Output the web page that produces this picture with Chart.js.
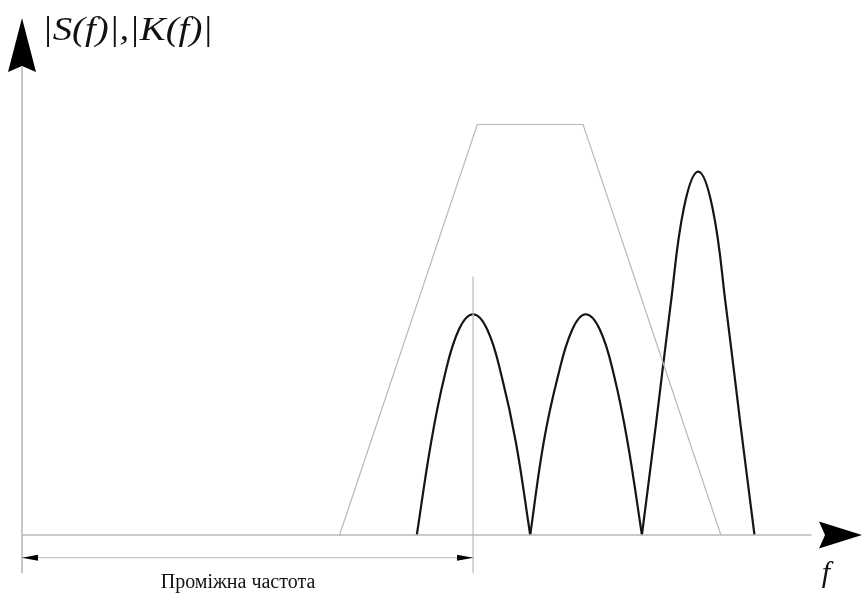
<!DOCTYPE html>
<html>
<head>
<meta charset="utf-8">
<script src="https://cdn.jsdelivr.net/npm/chart.js@4"></script>
<style>
  html, body { margin: 0; padding: 0; background: #fff; }
  #wrap { width: 865px; height: 597px; }
</style>
</head>
<body>
<div id="wrap"><canvas id="specChart"></canvas></div>
<script>
// K(f) - filter response (trapezoid)
var trapFreq = [3.78, 5.42, 6.68, 8.32];
var trapAmp  = [0, 7.94, 7.94, 0];

// S(f) - spectrum lobes
var lobe1Freq = [4.70, 4.87, 5.03, 5.20, 5.37, 5.54, 5.71, 5.88, 6.05];
var lobe1Amp  = [0, 1.79, 3.07, 3.97, 4.27, 3.97, 3.07, 1.79, 0];
var lobe2Freq = [6.05, 6.21, 6.38, 6.55, 6.71, 6.88, 7.05, 7.21, 7.38];
var lobe2Amp  = [0, 1.79, 3.07, 3.97, 4.27, 3.97, 3.07, 1.79, 0];
var lobe3Freq = [7.38, 7.55, 7.72, 7.88, 8.05, 8.22, 8.38, 8.55, 8.72];
var lobe3Amp  = [0, 2.18, 4.43, 6.33, 7.03, 6.33, 4.43, 2.18, 0];

// intermediate frequency marker
var ifFreq = 5.37;
var ifLineTop = 5.0;
var dimLevel = -0.44;
var axisFloor = -0.74;
var yAxisTop = 10;
var xAxisEnd = 10;

var axisLabel = '|S(f)|,|K(f)|';
var freqLabel = 'f';
var ifLabel = 'Проміжна частота';

function pts(xs, ys) {
    var out = [];
    for (var i = 0; i < xs.length; i++) out.push({x: xs[i], y: ys[i]});
    return out;
}

var grey = '#b9b9b9';
var black = '#151515';

function lobe(xs, ys) {
    return {
        data: pts(xs, ys),
        showLine: true,
        borderColor: black,
        borderWidth: 2.2,
        pointRadius: 0,
        tension: 0.4,
        clip: false
    };
}

function guide(xs, ys, w) {
    return {
        data: pts(xs, ys),
        showLine: true,
        borderColor: grey,
        borderWidth: w,
        pointRadius: 0,
        tension: 0,
        clip: false
    };
}

// arrow heads and texts
var decor = {
    id: 'decor',
    afterDatasetsDraw: function(chart) {
        var ctx = chart.ctx;
        var xs = chart.scales.x, ys = chart.scales.y;
        var x0 = xs.getPixelForValue(0), y0 = ys.getPixelForValue(0);
        ctx.save();
        ctx.fillStyle = '#000';

        // y axis arrow
        var tipY = ys.getPixelForValue(yAxisTop);
        ctx.beginPath();
        ctx.moveTo(x0, tipY);
        ctx.lineTo(x0 + 14, tipY + 54);
        ctx.lineTo(x0, tipY + 48);
        ctx.lineTo(x0 - 14, tipY + 54);
        ctx.closePath();
        ctx.fill();

        // x axis arrow
        var tipX = xs.getPixelForValue(xAxisEnd);
        ctx.beginPath();
        ctx.moveTo(tipX, y0);
        ctx.lineTo(tipX - 43, y0 - 13.5);
        ctx.lineTo(tipX - 37, y0);
        ctx.lineTo(tipX - 43, y0 + 13.5);
        ctx.closePath();
        ctx.fill();

        // dimension arrows
        var dy = ys.getPixelForValue(dimLevel);
        var xi = xs.getPixelForValue(ifFreq);
        ctx.beginPath();
        ctx.moveTo(x0, dy);
        ctx.lineTo(x0 + 16, dy - 3);
        ctx.lineTo(x0 + 16, dy + 3);
        ctx.closePath();
        ctx.fill();
        ctx.beginPath();
        ctx.moveTo(xi, dy);
        ctx.lineTo(xi - 16, dy - 3);
        ctx.lineTo(xi - 16, dy + 3);
        ctx.closePath();
        ctx.fill();

        // texts
        ctx.fillStyle = '#111';
        ctx.textBaseline = 'alphabetic';
        ctx.textAlign = 'left';
        ctx.font = 'italic 34px "Liberation Serif", "DejaVu Serif", serif';
        var w = ctx.measureText(axisLabel).width;
        ctx.save();
        ctx.translate(x0 + 20, 40);
        ctx.scale(171 / w, 1);
        ctx.fillText(axisLabel, 0, 0);
        ctx.restore();

        ctx.textAlign = 'center';
        ctx.font = 'italic 30px "Liberation Serif", "DejaVu Serif", serif';
        ctx.fillText(freqLabel, 826, 582);

        ctx.font = '20px "Liberation Serif", "DejaVu Serif", serif';
        ctx.fillText(ifLabel, 238, 588);
        ctx.restore();
    }
};

var chart = new Chart(document.getElementById('specChart').getContext('2d'), {
    type: 'scatter',
    data: {
        datasets: [
            guide([0, 0], [axisFloor, yAxisTop - 0.95], 1.6),
            guide([0, xAxisEnd - 0.6], [0, 0], 1.6),
            guide([ifFreq, ifFreq], [axisFloor, ifLineTop], 1.2),
            guide([0, ifFreq], [dimLevel, dimLevel], 1.2),
            guide(trapFreq, trapAmp, 1.2),
            lobe(lobe1Freq, lobe1Amp),
            lobe(lobe2Freq, lobe2Amp),
            lobe(lobe3Freq, lobe3Amp)
        ]
    },
    options: {
        responsive: true,
        maintainAspectRatio: false,
        animation: false,
        layout: { padding: { left: 22, right: 3, top: 18, bottom: 62 } },
        plugins: { legend: { display: false }, tooltip: { enabled: false } },
        scales: {
            x: { type: 'linear', display: false, min: 0, max: 10 },
            y: { type: 'linear', display: false, min: 0, max: 10 }
        }
    },
    plugins: [decor]
});
</script>
</body>
</html>
